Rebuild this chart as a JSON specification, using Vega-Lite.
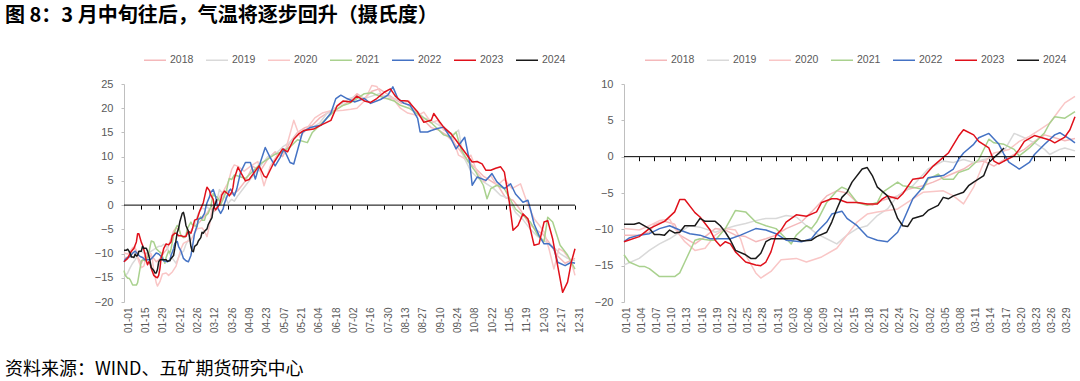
{
"$schema": "https://vega.github.io/schema/vega-lite/v6.json",
"background": "white",
"padding": {"left": 5, "top": 6, "right": 5, "bottom": 5},
"config": {"view": {"stroke": null}, "font": "Liberation Sans", "axis": {"grid": false, "labelFont": "Liberation Sans", "labelColor": "#595959"}, "legend": {"labelFont": "Liberation Sans"}},
"title": {"text": "图 8：3 月中旬往后，气温将逐步回升（摄氏度）", "anchor": "start", "font": "Noto Sans CJK SC", "fontSize": 20, "fontWeight": "bold", "color": "#000000", "offset": 22},
"datasets": {"t": [
{"year":"2018","day":0,"temp":-10.8},{"year":"2018","day":3,"temp":-10.8},{"year":"2018","day":5,"temp":-10.4},{"year":"2018","day":6,"temp":-9.3},{"year":"2018","day":8,"temp":-8.9},{"year":"2018","day":10,"temp":-9.3},{"year":"2018","day":11,"temp":-10.8},{"year":"2018","day":14,"temp":-12.0},{"year":"2018","day":16,"temp":-11.0},{"year":"2018","day":18,"temp":-9.9},{"year":"2018","day":20,"temp":-10.1},{"year":"2018","day":22,"temp":-10.8},{"year":"2018","day":24,"temp":-11.0},{"year":"2018","day":26,"temp":-11.7},{"year":"2018","day":28,"temp":-11.3},{"year":"2018","day":30,"temp":-10.8},{"year":"2018","day":32,"temp":-9.9},{"year":"2018","day":35,"temp":-9.0},{"year":"2018","day":37,"temp":-7.6},{"year":"2018","day":40,"temp":-5.4},{"year":"2018","day":42,"temp":-4.7},{"year":"2018","day":44,"temp":-5.0},{"year":"2018","day":46,"temp":-6.3},{"year":"2018","day":49,"temp":-6.7},{"year":"2018","day":51,"temp":-6.0},{"year":"2018","day":54,"temp":-5.4},{"year":"2018","day":56,"temp":-4.5},{"year":"2018","day":59,"temp":-4.0},{"year":"2018","day":61,"temp":-3.5},{"year":"2018","day":64,"temp":-2.6},{"year":"2018","day":67,"temp":-1.7},{"year":"2018","day":69,"temp":-0.8},{"year":"2018","day":71,"temp":-0.6},{"year":"2018","day":73,"temp":-1.3},{"year":"2018","day":75,"temp":-0.4},{"year":"2018","day":77,"temp":0.3},{"year":"2018","day":79,"temp":1.0},{"year":"2018","day":81,"temp":2.1},{"year":"2018","day":83,"temp":3.0},{"year":"2018","day":85,"temp":2.6},{"year":"2018","day":87,"temp":2.2},{"year":"2018","day":89,"temp":2.5},{"year":"2018","day":92,"temp":3.0},{"year":"2018","day":98,"temp":5.0},{"year":"2018","day":104,"temp":8.0},{"year":"2018","day":110,"temp":7.0},{"year":"2018","day":116,"temp":9.5},{"year":"2018","day":122,"temp":11.0},{"year":"2018","day":128,"temp":10.0},{"year":"2018","day":134,"temp":13.0},{"year":"2018","day":140,"temp":15.0},{"year":"2018","day":146,"temp":16.0},{"year":"2018","day":152,"temp":16.5},{"year":"2018","day":158,"temp":18.0},{"year":"2018","day":164,"temp":19.0},{"year":"2018","day":170,"temp":19.5},{"year":"2018","day":176,"temp":20.5},{"year":"2018","day":182,"temp":21.5},{"year":"2018","day":188,"temp":23.0},{"year":"2018","day":194,"temp":22.0},{"year":"2018","day":200,"temp":23.5},{"year":"2018","day":206,"temp":24.0},{"year":"2018","day":212,"temp":23.0},{"year":"2018","day":218,"temp":22.0},{"year":"2018","day":224,"temp":21.0},{"year":"2018","day":230,"temp":21.5},{"year":"2018","day":236,"temp":19.0},{"year":"2018","day":242,"temp":17.5},{"year":"2018","day":248,"temp":16.0},{"year":"2018","day":254,"temp":15.5},{"year":"2018","day":260,"temp":14.5},{"year":"2018","day":266,"temp":13.0},{"year":"2018","day":272,"temp":11.0},{"year":"2018","day":278,"temp":9.0},{"year":"2018","day":284,"temp":7.5},{"year":"2018","day":290,"temp":6.0},{"year":"2018","day":296,"temp":5.0},{"year":"2018","day":302,"temp":4.0},{"year":"2018","day":308,"temp":1.5},{"year":"2018","day":314,"temp":1.0},{"year":"2018","day":320,"temp":-1.0},{"year":"2018","day":326,"temp":-3.5},{"year":"2018","day":332,"temp":-5.0},{"year":"2018","day":338,"temp":-6.0},{"year":"2018","day":344,"temp":-8.0},{"year":"2018","day":350,"temp":-10.5},{"year":"2018","day":356,"temp":-12.0},{"year":"2018","day":364,"temp":-11.0},
{"year":"2019","day":0,"temp":-14.9},{"year":"2019","day":3,"temp":-14.0},{"year":"2019","day":5,"temp":-12.9},{"year":"2019","day":7,"temp":-12.0},{"year":"2019","day":9,"temp":-11.3},{"year":"2019","day":11,"temp":-10.4},{"year":"2019","day":13,"temp":-9.5},{"year":"2019","day":15,"temp":-9.7},{"year":"2019","day":18,"temp":-10.4},{"year":"2019","day":20,"temp":-9.9},{"year":"2019","day":22,"temp":-9.5},{"year":"2019","day":24,"temp":-9.2},{"year":"2019","day":26,"temp":-8.8},{"year":"2019","day":28,"temp":-8.5},{"year":"2019","day":30,"temp":-8.5},{"year":"2019","day":32,"temp":-8.1},{"year":"2019","day":34,"temp":-8.3},{"year":"2019","day":36,"temp":-9.5},{"year":"2019","day":38,"temp":-10.6},{"year":"2019","day":40,"temp":-11.3},{"year":"2019","day":42,"temp":-12.0},{"year":"2019","day":44,"temp":-10.8},{"year":"2019","day":46,"temp":-9.9},{"year":"2019","day":48,"temp":-9.5},{"year":"2019","day":50,"temp":-8.1},{"year":"2019","day":52,"temp":-7.2},{"year":"2019","day":54,"temp":-5.4},{"year":"2019","day":57,"temp":-4.0},{"year":"2019","day":60,"temp":-1.7},{"year":"2019","day":63,"temp":-0.6},{"year":"2019","day":65,"temp":-0.8},{"year":"2019","day":67,"temp":-0.4},{"year":"2019","day":69,"temp":-0.8},{"year":"2019","day":71,"temp":-0.4},{"year":"2019","day":73,"temp":-0.1},{"year":"2019","day":75,"temp":0.8},{"year":"2019","day":77,"temp":3.2},{"year":"2019","day":79,"temp":2.6},{"year":"2019","day":81,"temp":1.9},{"year":"2019","day":83,"temp":1.0},{"year":"2019","day":84,"temp":0.3},{"year":"2019","day":86,"temp":1.0},{"year":"2019","day":87,"temp":1.2},{"year":"2019","day":89,"temp":0.8},{"year":"2019","day":92,"temp":2.0},{"year":"2019","day":98,"temp":4.0},{"year":"2019","day":104,"temp":6.0},{"year":"2019","day":110,"temp":8.0},{"year":"2019","day":116,"temp":10.0},{"year":"2019","day":122,"temp":10.5},{"year":"2019","day":128,"temp":12.0},{"year":"2019","day":134,"temp":13.0},{"year":"2019","day":140,"temp":14.5},{"year":"2019","day":146,"temp":15.5},{"year":"2019","day":152,"temp":16.0},{"year":"2019","day":158,"temp":17.0},{"year":"2019","day":164,"temp":19.0},{"year":"2019","day":170,"temp":20.0},{"year":"2019","day":176,"temp":21.0},{"year":"2019","day":182,"temp":22.0},{"year":"2019","day":188,"temp":22.5},{"year":"2019","day":194,"temp":22.0},{"year":"2019","day":200,"temp":22.5},{"year":"2019","day":206,"temp":23.0},{"year":"2019","day":212,"temp":22.5},{"year":"2019","day":218,"temp":22.0},{"year":"2019","day":224,"temp":21.5},{"year":"2019","day":230,"temp":20.5},{"year":"2019","day":236,"temp":19.5},{"year":"2019","day":242,"temp":18.0},{"year":"2019","day":248,"temp":17.5},{"year":"2019","day":254,"temp":16.5},{"year":"2019","day":260,"temp":15.5},{"year":"2019","day":266,"temp":14.5},{"year":"2019","day":270,"temp":15.5},{"year":"2019","day":274,"temp":10.0},{"year":"2019","day":280,"temp":7.0},{"year":"2019","day":286,"temp":5.5},{"year":"2019","day":292,"temp":4.5},{"year":"2019","day":298,"temp":3.5},{"year":"2019","day":304,"temp":2.0},{"year":"2019","day":310,"temp":1.5},{"year":"2019","day":316,"temp":-1.5},{"year":"2019","day":322,"temp":-3.0},{"year":"2019","day":328,"temp":-5.0},{"year":"2019","day":334,"temp":-6.5},{"year":"2019","day":340,"temp":-7.5},{"year":"2019","day":346,"temp":-8.5},{"year":"2019","day":352,"temp":-10.0},{"year":"2019","day":358,"temp":-11.0},{"year":"2019","day":364,"temp":-11.5},
{"year":"2020","day":0,"temp":-9.9},{"year":"2020","day":3,"temp":-10.1},{"year":"2020","day":5,"temp":-9.5},{"year":"2020","day":7,"temp":-8.8},{"year":"2020","day":9,"temp":-8.6},{"year":"2020","day":10,"temp":-9.9},{"year":"2020","day":12,"temp":-11.7},{"year":"2020","day":14,"temp":-12.9},{"year":"2020","day":16,"temp":-12.6},{"year":"2020","day":18,"temp":-10.8},{"year":"2020","day":20,"temp":-9.9},{"year":"2020","day":22,"temp":-10.1},{"year":"2020","day":23,"temp":-11.3},{"year":"2020","day":24,"temp":-13.5},{"year":"2020","day":26,"temp":-16.0},{"year":"2020","day":27,"temp":-16.7},{"year":"2020","day":29,"temp":-15.8},{"year":"2020","day":31,"temp":-14.2},{"year":"2020","day":34,"temp":-14.0},{"year":"2020","day":36,"temp":-14.5},{"year":"2020","day":39,"temp":-13.8},{"year":"2020","day":42,"temp":-12.6},{"year":"2020","day":44,"temp":-10.8},{"year":"2020","day":46,"temp":-9.0},{"year":"2020","day":48,"temp":-7.9},{"year":"2020","day":50,"temp":-7.6},{"year":"2020","day":52,"temp":-7.4},{"year":"2020","day":54,"temp":-7.2},{"year":"2020","day":57,"temp":-5.8},{"year":"2020","day":59,"temp":-4.9},{"year":"2020","day":63,"temp":-4.7},{"year":"2020","day":65,"temp":-5.4},{"year":"2020","day":67,"temp":-6.5},{"year":"2020","day":69,"temp":-4.2},{"year":"2020","day":71,"temp":-0.8},{"year":"2020","day":73,"temp":0.5},{"year":"2020","day":76,"temp":1.0},{"year":"2020","day":78,"temp":2.1},{"year":"2020","day":80,"temp":2.8},{"year":"2020","day":82,"temp":3.7},{"year":"2020","day":84,"temp":4.6},{"year":"2020","day":86,"temp":6.5},{"year":"2020","day":87,"temp":7.4},{"year":"2020","day":89,"temp":8.3},{"year":"2020","day":92,"temp":8.0},{"year":"2020","day":97,"temp":7.0},{"year":"2020","day":102,"temp":8.0},{"year":"2020","day":108,"temp":9.0},{"year":"2020","day":113,"temp":4.0},{"year":"2020","day":118,"temp":8.0},{"year":"2020","day":124,"temp":10.5},{"year":"2020","day":130,"temp":11.0},{"year":"2020","day":137,"temp":17.5},{"year":"2020","day":142,"temp":14.0},{"year":"2020","day":148,"temp":16.0},{"year":"2020","day":154,"temp":18.0},{"year":"2020","day":160,"temp":19.0},{"year":"2020","day":167,"temp":19.5},{"year":"2020","day":172,"temp":19.5},{"year":"2020","day":177,"temp":19.6},{"year":"2020","day":183,"temp":19.8},{"year":"2020","day":188,"temp":20.0},{"year":"2020","day":194,"temp":21.5},{"year":"2020","day":200,"temp":24.7},{"year":"2020","day":204,"temp":24.5},{"year":"2020","day":210,"temp":22.0},{"year":"2020","day":217,"temp":22.0},{"year":"2020","day":223,"temp":20.0},{"year":"2020","day":229,"temp":19.0},{"year":"2020","day":237,"temp":18.5},{"year":"2020","day":242,"temp":19.2},{"year":"2020","day":248,"temp":17.0},{"year":"2020","day":253,"temp":17.5},{"year":"2020","day":258,"temp":15.5},{"year":"2020","day":264,"temp":14.8},{"year":"2020","day":270,"temp":10.3},{"year":"2020","day":275,"temp":9.6},{"year":"2020","day":280,"temp":10.3},{"year":"2020","day":285,"temp":6.8},{"year":"2020","day":291,"temp":4.8},{"year":"2020","day":296,"temp":6.1},{"year":"2020","day":301,"temp":4.0},{"year":"2020","day":307,"temp":5.4},{"year":"2020","day":313,"temp":3.4},{"year":"2020","day":320,"temp":4.4},{"year":"2020","day":326,"temp":0.0},{"year":"2020","day":331,"temp":-2.8},{"year":"2020","day":335,"temp":-4.1},{"year":"2020","day":339,"temp":-5.5},{"year":"2020","day":343,"temp":-9.0},{"year":"2020","day":347,"temp":-13.2},{"year":"2020","day":351,"temp":-9.0},{"year":"2020","day":355,"temp":-9.6},{"year":"2020","day":361,"temp":-11.7},{"year":"2020","day":364,"temp":-14.5},
{"year":"2021","day":0,"temp":-13.5},{"year":"2021","day":1,"temp":-14.5},{"year":"2021","day":3,"temp":-15.1},{"year":"2021","day":4,"temp":-15.1},{"year":"2021","day":5,"temp":-15.4},{"year":"2021","day":7,"temp":-16.5},{"year":"2021","day":10,"temp":-16.5},{"year":"2021","day":11,"temp":-16.0},{"year":"2021","day":12,"temp":-14.5},{"year":"2021","day":14,"temp":-11.5},{"year":"2021","day":15,"temp":-11.3},{"year":"2021","day":17,"temp":-11.5},{"year":"2021","day":18,"temp":-11.5},{"year":"2021","day":20,"temp":-9.9},{"year":"2021","day":22,"temp":-7.4},{"year":"2021","day":24,"temp":-7.6},{"year":"2021","day":26,"temp":-9.0},{"year":"2021","day":28,"temp":-9.5},{"year":"2021","day":30,"temp":-9.9},{"year":"2021","day":32,"temp":-11.3},{"year":"2021","day":33,"temp":-12.0},{"year":"2021","day":34,"temp":-10.8},{"year":"2021","day":36,"temp":-9.5},{"year":"2021","day":37,"temp":-9.9},{"year":"2021","day":38,"temp":-9.0},{"year":"2021","day":40,"temp":-6.3},{"year":"2021","day":42,"temp":-4.7},{"year":"2021","day":43,"temp":-4.2},{"year":"2021","day":44,"temp":-4.5},{"year":"2021","day":46,"temp":-6.3},{"year":"2021","day":48,"temp":-6.7},{"year":"2021","day":50,"temp":-6.3},{"year":"2021","day":51,"temp":-4.9},{"year":"2021","day":54,"temp":-3.5},{"year":"2021","day":55,"temp":-4.0},{"year":"2021","day":57,"temp":-4.2},{"year":"2021","day":59,"temp":-4.5},{"year":"2021","day":60,"temp":-3.1},{"year":"2021","day":62,"temp":-2.4},{"year":"2021","day":63,"temp":-3.1},{"year":"2021","day":65,"temp":-3.1},{"year":"2021","day":66,"temp":-2.2},{"year":"2021","day":68,"temp":-1.7},{"year":"2021","day":70,"temp":-0.4},{"year":"2021","day":72,"temp":2.4},{"year":"2021","day":73,"temp":1.9},{"year":"2021","day":75,"temp":1.7},{"year":"2021","day":77,"temp":1.0},{"year":"2021","day":78,"temp":0.1},{"year":"2021","day":80,"temp":1.2},{"year":"2021","day":81,"temp":1.9},{"year":"2021","day":83,"temp":3.3},{"year":"2021","day":84,"temp":4.6},{"year":"2021","day":85,"temp":5.5},{"year":"2021","day":87,"temp":5.3},{"year":"2021","day":89,"temp":6.2},{"year":"2021","day":92,"temp":6.0},{"year":"2021","day":98,"temp":5.5},{"year":"2021","day":104,"temp":7.0},{"year":"2021","day":110,"temp":8.5},{"year":"2021","day":116,"temp":9.5},{"year":"2021","day":122,"temp":10.5},{"year":"2021","day":128,"temp":11.0},{"year":"2021","day":134,"temp":12.0},{"year":"2021","day":140,"temp":13.5},{"year":"2021","day":148,"temp":12.9},{"year":"2021","day":152,"temp":15.0},{"year":"2021","day":158,"temp":16.5},{"year":"2021","day":164,"temp":18.0},{"year":"2021","day":170,"temp":19.5},{"year":"2021","day":176,"temp":20.5},{"year":"2021","day":182,"temp":21.0},{"year":"2021","day":188,"temp":22.0},{"year":"2021","day":194,"temp":23.0},{"year":"2021","day":200,"temp":23.2},{"year":"2021","day":206,"temp":22.5},{"year":"2021","day":212,"temp":22.0},{"year":"2021","day":218,"temp":21.5},{"year":"2021","day":223,"temp":20.6},{"year":"2021","day":230,"temp":20.0},{"year":"2021","day":236,"temp":19.0},{"year":"2021","day":242,"temp":18.0},{"year":"2021","day":248,"temp":17.0},{"year":"2021","day":254,"temp":15.5},{"year":"2021","day":258,"temp":14.5},{"year":"2021","day":264,"temp":14.0},{"year":"2021","day":268,"temp":15.1},{"year":"2021","day":272,"temp":11.5},{"year":"2021","day":278,"temp":8.9},{"year":"2021","day":284,"temp":6.8},{"year":"2021","day":290,"temp":4.1},{"year":"2021","day":293,"temp":1.3},{"year":"2021","day":296,"temp":3.4},{"year":"2021","day":301,"temp":4.1},{"year":"2021","day":307,"temp":3.4},{"year":"2021","day":316,"temp":-0.8},{"year":"2021","day":322,"temp":-2.1},{"year":"2021","day":328,"temp":-3.5},{"year":"2021","day":334,"temp":-6.2},{"year":"2021","day":339,"temp":-7.5},{"year":"2021","day":342,"temp":-2.5},{"year":"2021","day":346,"temp":-3.5},{"year":"2021","day":352,"temp":-8.3},{"year":"2021","day":358,"temp":-10.3},{"year":"2021","day":364,"temp":-13.2},
{"year":"2022","day":0,"temp":-11.7},{"year":"2022","day":1,"temp":-11.2},{"year":"2022","day":3,"temp":-10.8},{"year":"2022","day":5,"temp":-10.6},{"year":"2022","day":7,"temp":-9.9},{"year":"2022","day":9,"temp":-9.5},{"year":"2022","day":11,"temp":-10.1},{"year":"2022","day":13,"temp":-10.6},{"year":"2022","day":15,"temp":-10.8},{"year":"2022","day":17,"temp":-11.3},{"year":"2022","day":19,"temp":-11.3},{"year":"2022","day":21,"temp":-11.3},{"year":"2022","day":23,"temp":-10.8},{"year":"2022","day":26,"temp":-9.9},{"year":"2022","day":28,"temp":-10.1},{"year":"2022","day":30,"temp":-10.6},{"year":"2022","day":32,"temp":-11.5},{"year":"2022","day":35,"temp":-11.7},{"year":"2022","day":37,"temp":-11.3},{"year":"2022","day":38,"temp":-10.4},{"year":"2022","day":40,"temp":-9.0},{"year":"2022","day":41,"temp":-7.9},{"year":"2022","day":43,"temp":-7.5},{"year":"2022","day":44,"temp":-8.5},{"year":"2022","day":46,"temp":-9.5},{"year":"2022","day":48,"temp":-11.0},{"year":"2022","day":50,"temp":-11.5},{"year":"2022","day":52,"temp":-11.7},{"year":"2022","day":54,"temp":-10.4},{"year":"2022","day":55,"temp":-9.0},{"year":"2022","day":57,"temp":-5.8},{"year":"2022","day":59,"temp":-4.2},{"year":"2022","day":60,"temp":-2.9},{"year":"2022","day":63,"temp":-2.6},{"year":"2022","day":65,"temp":-1.7},{"year":"2022","day":66,"temp":-0.4},{"year":"2022","day":67,"temp":0.5},{"year":"2022","day":69,"temp":1.7},{"year":"2022","day":70,"temp":2.6},{"year":"2022","day":72,"temp":3.2},{"year":"2022","day":74,"temp":1.7},{"year":"2022","day":75,"temp":0.3},{"year":"2022","day":76,"temp":-0.8},{"year":"2022","day":78,"temp":-1.7},{"year":"2022","day":80,"temp":-0.8},{"year":"2022","day":81,"temp":0.3},{"year":"2022","day":83,"temp":1.7},{"year":"2022","day":85,"temp":3.0},{"year":"2022","day":86,"temp":3.3},{"year":"2022","day":88,"temp":2.4},{"year":"2022","day":89,"temp":1.9},{"year":"2022","day":91,"temp":3.3},{"year":"2022","day":94,"temp":6.7},{"year":"2022","day":98,"temp":8.8},{"year":"2022","day":102,"temp":8.8},{"year":"2022","day":106,"temp":5.4},{"year":"2022","day":110,"temp":8.8},{"year":"2022","day":114,"temp":11.9},{"year":"2022","day":118,"temp":9.8},{"year":"2022","day":122,"temp":8.1},{"year":"2022","day":126,"temp":9.8},{"year":"2022","day":129,"temp":11.6},{"year":"2022","day":134,"temp":8.8},{"year":"2022","day":137,"temp":8.5},{"year":"2022","day":144,"temp":15.0},{"year":"2022","day":150,"temp":16.0},{"year":"2022","day":159,"temp":16.5},{"year":"2022","day":167,"temp":19.0},{"year":"2022","day":171,"temp":22.0},{"year":"2022","day":175,"temp":22.7},{"year":"2022","day":180,"temp":22.0},{"year":"2022","day":186,"temp":21.3},{"year":"2022","day":194,"temp":22.0},{"year":"2022","day":199,"temp":21.0},{"year":"2022","day":207,"temp":21.8},{"year":"2022","day":213,"temp":22.7},{"year":"2022","day":217,"temp":24.4},{"year":"2022","day":221,"temp":22.0},{"year":"2022","day":226,"temp":21.0},{"year":"2022","day":231,"temp":20.6},{"year":"2022","day":237,"temp":17.9},{"year":"2022","day":239,"temp":15.1},{"year":"2022","day":245,"temp":15.1},{"year":"2022","day":248,"temp":15.4},{"year":"2022","day":253,"temp":15.8},{"year":"2022","day":258,"temp":16.1},{"year":"2022","day":264,"temp":13.7},{"year":"2022","day":268,"temp":11.6},{"year":"2022","day":270,"temp":12.3},{"year":"2022","day":275,"temp":14.0},{"year":"2022","day":279,"temp":8.9},{"year":"2022","day":281,"temp":4.1},{"year":"2022","day":285,"temp":5.8},{"year":"2022","day":292,"temp":5.1},{"year":"2022","day":297,"temp":6.5},{"year":"2022","day":301,"temp":4.8},{"year":"2022","day":307,"temp":3.4},{"year":"2022","day":312,"temp":4.4},{"year":"2022","day":316,"temp":2.3},{"year":"2022","day":322,"temp":0.6},{"year":"2022","day":326,"temp":1.0},{"year":"2022","day":328,"temp":-0.8},{"year":"2022","day":331,"temp":-3.9},{"year":"2022","day":335,"temp":-6.3},{"year":"2022","day":339,"temp":-8.0},{"year":"2022","day":343,"temp":-8.0},{"year":"2022","day":347,"temp":-9.0},{"year":"2022","day":350,"temp":-11.8},{"year":"2022","day":356,"temp":-12.5},{"year":"2022","day":361,"temp":-11.8},{"year":"2022","day":364,"temp":-12.0},
{"year":"2023","day":0,"temp":-11.7},{"year":"2023","day":3,"temp":-11.0},{"year":"2023","day":5,"temp":-9.9},{"year":"2023","day":8,"temp":-8.9},{"year":"2023","day":10,"temp":-7.6},{"year":"2023","day":11,"temp":-5.9},{"year":"2023","day":12,"temp":-5.9},{"year":"2023","day":14,"temp":-7.7},{"year":"2023","day":15,"temp":-8.3},{"year":"2023","day":17,"temp":-10.1},{"year":"2023","day":18,"temp":-11.5},{"year":"2023","day":19,"temp":-12.3},{"year":"2023","day":20,"temp":-11.7},{"year":"2023","day":21,"temp":-12.0},{"year":"2023","day":22,"temp":-13.1},{"year":"2023","day":24,"temp":-14.5},{"year":"2023","day":26,"temp":-14.9},{"year":"2023","day":27,"temp":-15.0},{"year":"2023","day":28,"temp":-14.5},{"year":"2023","day":29,"temp":-13.1},{"year":"2023","day":30,"temp":-10.8},{"year":"2023","day":31,"temp":-10.1},{"year":"2023","day":32,"temp":-9.0},{"year":"2023","day":34,"temp":-8.0},{"year":"2023","day":36,"temp":-8.2},{"year":"2023","day":38,"temp":-7.6},{"year":"2023","day":39,"temp":-6.3},{"year":"2023","day":41,"temp":-5.8},{"year":"2023","day":42,"temp":-5.8},{"year":"2023","day":44,"temp":-6.3},{"year":"2023","day":46,"temp":-6.3},{"year":"2023","day":48,"temp":-6.5},{"year":"2023","day":50,"temp":-6.5},{"year":"2023","day":51,"temp":-5.8},{"year":"2023","day":52,"temp":-5.4},{"year":"2023","day":54,"temp":-5.8},{"year":"2023","day":55,"temp":-5.1},{"year":"2023","day":57,"temp":-3.1},{"year":"2023","day":59,"temp":-2.9},{"year":"2023","day":61,"temp":-1.3},{"year":"2023","day":63,"temp":-0.1},{"year":"2023","day":64,"temp":0.5},{"year":"2023","day":66,"temp":2.8},{"year":"2023","day":67,"temp":3.7},{"year":"2023","day":69,"temp":3.0},{"year":"2023","day":70,"temp":2.1},{"year":"2023","day":72,"temp":1.2},{"year":"2023","day":73,"temp":-0.6},{"year":"2023","day":74,"temp":-1.0},{"year":"2023","day":75,"temp":-0.6},{"year":"2023","day":77,"temp":0.1},{"year":"2023","day":78,"temp":1.0},{"year":"2023","day":79,"temp":2.1},{"year":"2023","day":81,"temp":2.9},{"year":"2023","day":84,"temp":2.3},{"year":"2023","day":85,"temp":1.9},{"year":"2023","day":87,"temp":2.7},{"year":"2023","day":88,"temp":3.7},{"year":"2023","day":89,"temp":5.5},{"year":"2023","day":92,"temp":7.8},{"year":"2023","day":98,"temp":5.0},{"year":"2023","day":101,"temp":5.3},{"year":"2023","day":105,"temp":6.7},{"year":"2023","day":109,"temp":8.1},{"year":"2023","day":113,"temp":6.0},{"year":"2023","day":115,"temp":5.7},{"year":"2023","day":121,"temp":8.8},{"year":"2023","day":128,"temp":11.6},{"year":"2023","day":132,"temp":11.0},{"year":"2023","day":137,"temp":13.6},{"year":"2023","day":141,"temp":14.7},{"year":"2023","day":145,"temp":15.4},{"year":"2023","day":153,"temp":15.7},{"year":"2023","day":159,"temp":16.5},{"year":"2023","day":167,"temp":17.5},{"year":"2023","day":172,"temp":20.5},{"year":"2023","day":177,"temp":21.5},{"year":"2023","day":183,"temp":21.3},{"year":"2023","day":188,"temp":22.5},{"year":"2023","day":194,"temp":21.5},{"year":"2023","day":199,"temp":21.2},{"year":"2023","day":204,"temp":22.0},{"year":"2023","day":210,"temp":23.3},{"year":"2023","day":215,"temp":24.0},{"year":"2023","day":219,"temp":22.5},{"year":"2023","day":223,"temp":21.6},{"year":"2023","day":229,"temp":21.5},{"year":"2023","day":231,"temp":21.0},{"year":"2023","day":237,"temp":19.2},{"year":"2023","day":242,"temp":17.1},{"year":"2023","day":248,"temp":17.5},{"year":"2023","day":250,"temp":18.9},{"year":"2023","day":255,"temp":17.1},{"year":"2023","day":258,"temp":16.1},{"year":"2023","day":264,"temp":14.7},{"year":"2023","day":268,"temp":13.4},{"year":"2023","day":272,"temp":12.0},{"year":"2023","day":277,"temp":10.3},{"year":"2023","day":281,"temp":8.9},{"year":"2023","day":285,"temp":9.0},{"year":"2023","day":289,"temp":8.5},{"year":"2023","day":292,"temp":7.2},{"year":"2023","day":296,"temp":7.2},{"year":"2023","day":300,"temp":7.6},{"year":"2023","day":304,"temp":7.9},{"year":"2023","day":307,"temp":6.8},{"year":"2023","day":311,"temp":0.6},{"year":"2023","day":314,"temp":-5.2},{"year":"2023","day":318,"temp":-4.2},{"year":"2023","day":322,"temp":-1.8},{"year":"2023","day":326,"temp":-2.8},{"year":"2023","day":331,"temp":-8.3},{"year":"2023","day":335,"temp":-8.0},{"year":"2023","day":339,"temp":-3.5},{"year":"2023","day":342,"temp":-3.2},{"year":"2023","day":346,"temp":-7.0},{"year":"2023","day":350,"temp":-12.5},{"year":"2023","day":354,"temp":-18.0},{"year":"2023","day":358,"temp":-15.9},{"year":"2023","day":361,"temp":-11.8},{"year":"2023","day":364,"temp":-9.0},
{"year":"2024","day":0,"temp":-9.3},{"year":"2024","day":2,"temp":-9.3},{"year":"2024","day":3,"temp":-9.1},{"year":"2024","day":5,"temp":-9.9},{"year":"2024","day":6,"temp":-10.7},{"year":"2024","day":7,"temp":-10.7},{"year":"2024","day":8,"temp":-10.8},{"year":"2024","day":9,"temp":-10.1},{"year":"2024","day":10,"temp":-10.5},{"year":"2024","day":11,"temp":-10.4},{"year":"2024","day":12,"temp":-9.5},{"year":"2024","day":14,"temp":-9.5},{"year":"2024","day":15,"temp":-8.5},{"year":"2024","day":16,"temp":-8.9},{"year":"2024","day":18,"temp":-8.9},{"year":"2024","day":19,"temp":-9.5},{"year":"2024","day":20,"temp":-10.4},{"year":"2024","day":21,"temp":-11.5},{"year":"2024","day":22,"temp":-12.9},{"year":"2024","day":24,"temp":-13.5},{"year":"2024","day":25,"temp":-14.0},{"year":"2024","day":26,"temp":-14.0},{"year":"2024","day":27,"temp":-13.3},{"year":"2024","day":28,"temp":-11.7},{"year":"2024","day":29,"temp":-11.3},{"year":"2024","day":32,"temp":-11.3},{"year":"2024","day":34,"temp":-11.3},{"year":"2024","day":35,"temp":-11.6},{"year":"2024","day":37,"temp":-11.5},{"year":"2024","day":38,"temp":-11.0},{"year":"2024","day":40,"temp":-10.4},{"year":"2024","day":41,"temp":-9.0},{"year":"2024","day":42,"temp":-7.2},{"year":"2024","day":43,"temp":-5.6},{"year":"2024","day":44,"temp":-4.9},{"year":"2024","day":45,"temp":-3.5},{"year":"2024","day":47,"temp":-1.7},{"year":"2024","day":48,"temp":-1.5},{"year":"2024","day":49,"temp":-2.6},{"year":"2024","day":50,"temp":-4.2},{"year":"2024","day":52,"temp":-5.4},{"year":"2024","day":53,"temp":-6.7},{"year":"2024","day":54,"temp":-8.5},{"year":"2024","day":55,"temp":-9.5},{"year":"2024","day":56,"temp":-9.6},{"year":"2024","day":57,"temp":-8.5},{"year":"2024","day":59,"temp":-8.1},{"year":"2024","day":60,"temp":-7.4},{"year":"2024","day":62,"temp":-6.7},{"year":"2024","day":63,"temp":-5.6},{"year":"2024","day":64,"temp":-5.8},{"year":"2024","day":65,"temp":-5.4},{"year":"2024","day":67,"temp":-4.9},{"year":"2024","day":68,"temp":-4.0},{"year":"2024","day":69,"temp":-3.5},{"year":"2024","day":71,"temp":-2.6},{"year":"2024","day":72,"temp":-0.8},{"year":"2024","day":74,"temp":0.5},{"year":"2024","day":75,"temp":1.2}
]},
"vconcat": [{
"title": {"text": "资料来源：WIND、五矿期货研究中心", "orient": "bottom", "anchor": "start", "font": "Noto Sans CJK SC", "fontSize": 18, "fontWeight": "normal", "color": "#000000", "offset": 28},
"spacing": 10,
"resolve": {"scale": {"color": "independent", "strokeWidth": "independent"}, "legend": {"color": "independent"}},
"hconcat": [
{
"width": 451, "height": 218,
"layer": [
{"data": {"name": "t"},
"mark": {"type": "line", "strokeJoin": "round"},
"encoding": {
"x": {"field": "day", "type": "quantitative", "scale": {"domain": [0, 364], "nice": false, "zero": false},
"axis": {"orient": "bottom", "values": [0,14,28,42,56,70,84,98,112,126,140,154,168,182,196,210,224,238,252,266,280,294,308,322,336,350,364], "labelExpr": "timeFormat(datetime(2023, 0, 1 + datum.value), '%m-%d')", "labelAngle": -90, "labelFontSize": 10, "labelPadding": 5, "labelOffset": 4, "labelOverlap": false, "domain": false, "ticks": false, "title": null}},
"y": {"field": "temp", "type": "quantitative", "scale": {"domain": [-20, 25], "nice": false, "zero": false},
"axis": {"values": [-20,-15,-10,-5,0,5,10,15,20,25], "labelOverlap": false, "title": null, "domainColor": "#BFBFBF", "tickColor": "#BFBFBF", "tickSize": 3, "labelPadding": 8, "labelFontSize": 11, "minExtent": 119}},
"color": {"field": "year", "type": "nominal", "scale": {"domain": ["2018","2019","2020","2021","2022","2023","2024"], "range": ["#F4B8BA","#D9D9D9","#F9C6C6","#A9D18E","#4472C4","#E0101A","#1A1A1A"]},
"legend": {"orient": "none", "legendX": 19, "legendY": -36, "direction": "horizontal", "columns": 7, "title": null, "symbolType": "stroke", "symbolSize": 484, "symbolStrokeWidth": 2, "labelFontSize": 10.5, "labelColor": "#595959", "labelOffset": 3, "columnPadding": 9, "padding": 0}},
"strokeWidth": {"field": "year", "type": "nominal", "scale": {"domain": ["2018","2019","2020","2021","2022","2023","2024"], "range": [1.5,1.5,1.5,1.5,2,2,2]}, "legend": null}
}},
{"data": {"values": [{}]},
"mark": {"type": "rule", "color": "#000000", "strokeWidth": 1},
"encoding": {
"x": {"datum": 0, "type": "quantitative", "axis": {"orient": "bottom", "offset": -96.9, "values": [0,14,28,42,56,70,84,98,112,126,140,154,168,182,196,210,224,238,252,266,280,294,308,322,336,350,364], "labels": false, "domain": false, "ticks": true, "tickColor": "#000000", "tickSize": 4, "title": null}},
"x2": {"datum": 364},
"y": {"datum": 0, "type": "quantitative", "axis": {"values": [-20,-15,-10,-5,0,5,10,15,20,25], "labelOverlap": false, "title": null, "domainColor": "#BFBFBF", "tickColor": "#BFBFBF", "tickSize": 3, "labelPadding": 8, "labelFontSize": 11, "minExtent": 119}}
}}
],
"resolve": {"axis": {"x": "independent"}}
},
{
"width": 451, "height": 218,
"layer": [
{"data": {"name": "t"},
"transform": [{"filter": "datum.day <= 89"}],
"mark": {"type": "line", "strokeJoin": "round"},
"encoding": {
"x": {"field": "day", "type": "quantitative", "scale": {"domain": [0, 89], "nice": false, "zero": false},
"axis": {"orient": "bottom", "values": [0,3,6,9,12,15,18,21,24,27,30,33,36,39,42,45,48,51,54,57,60,63,66,69,72,75,78,81,84,87], "labelExpr": "timeFormat(datetime(2023, 0, 1 + datum.value), '%m-%d')", "labelAngle": -90, "labelFontSize": 10, "labelPadding": 5, "labelOffset": 2, "labelOverlap": false, "domain": false, "ticks": false, "title": null}},
"y": {"field": "temp", "type": "quantitative", "scale": {"domain": [-20, 10], "nice": false, "zero": false},
"axis": {"values": [-20,-15,-10,-5,0,5,10], "labelOverlap": false, "title": null, "domainColor": "#BFBFBF", "tickColor": "#BFBFBF", "tickSize": 3, "labelPadding": 8, "labelFontSize": 11, "minExtent": 22}},
"color": {"field": "year", "type": "nominal", "scale": {"domain": ["2018","2019","2020","2021","2022","2023","2024"], "range": ["#F4B8BA","#D9D9D9","#F9C6C6","#A9D18E","#4472C4","#E0101A","#1A1A1A"]},
"legend": {"orient": "none", "legendX": 20, "legendY": -36, "direction": "horizontal", "columns": 7, "title": null, "symbolType": "stroke", "symbolSize": 484, "symbolStrokeWidth": 2, "labelFontSize": 10.5, "labelColor": "#595959", "labelOffset": 3, "columnPadding": 9, "padding": 0}},
"strokeWidth": {"field": "year", "type": "nominal", "scale": {"domain": ["2018","2019","2020","2021","2022","2023","2024"], "range": [1.5,1.5,1.5,1.5,2,2,2]}, "legend": null}
}},
{"data": {"values": [{}]},
"mark": {"type": "rule", "color": "#000000", "strokeWidth": 1},
"encoding": {
"x": {"datum": 0, "type": "quantitative", "axis": {"orient": "bottom", "offset": -145.3, "values": [0,3,6,9,12,15,18,21,24,27,30,33,36,39,42,45,48,51,54,57,60,63,66,69,72,75,78,81,84,87], "labels": false, "domain": false, "ticks": true, "tickColor": "#000000", "tickSize": 4, "title": null}},
"x2": {"datum": 89},
"y": {"datum": 0, "type": "quantitative", "axis": {"values": [-20,-15,-10,-5,0,5,10], "labelOverlap": false, "title": null, "domainColor": "#BFBFBF", "tickColor": "#BFBFBF", "tickSize": 3, "labelPadding": 8, "labelFontSize": 11, "minExtent": 22}}
}}
],
"resolve": {"axis": {"x": "independent"}}
}
]
}]
}
